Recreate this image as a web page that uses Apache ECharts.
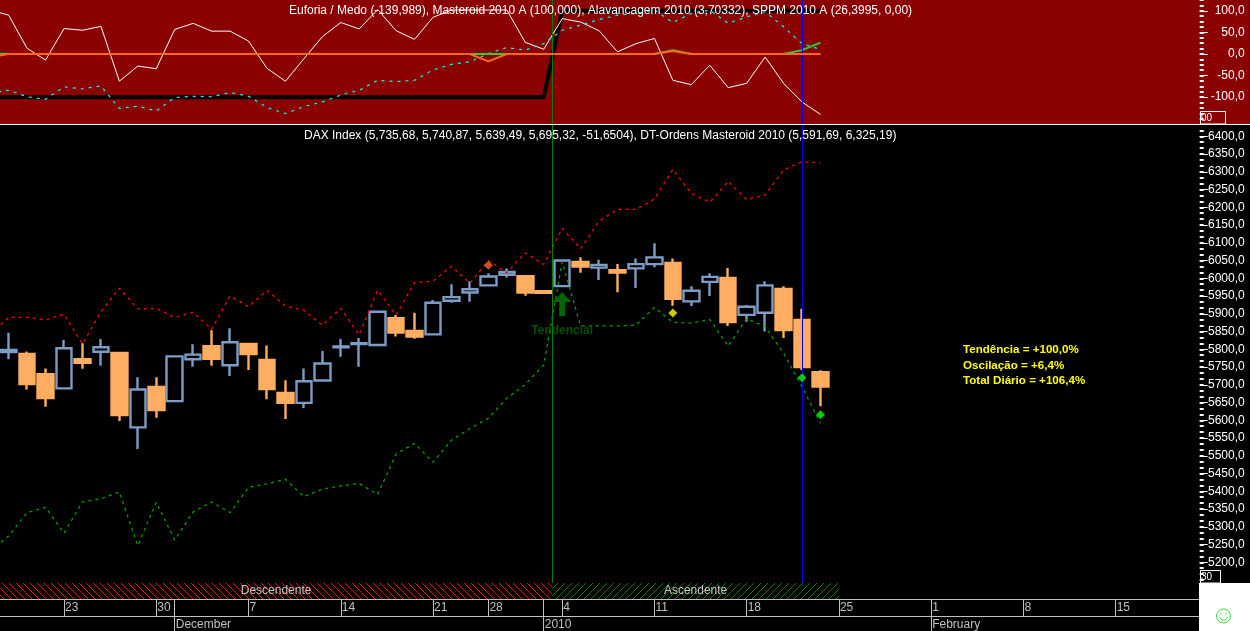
<!DOCTYPE html>
<html>
<head>
<meta charset="utf-8">
<style>html,body{margin:0;padding:0;background:#000}#c{width:1250px;height:631px}</style>
<script src="https://cdn.jsdelivr.net/npm/echarts@6/dist/echarts.min.js"></script>
</head>
<body>
<div id="c"></div>
<script>
// ---- data ----
const dates = ['2009-11-17','2009-11-18','2009-11-19','2009-11-20','2009-11-23','2009-11-24','2009-11-25','2009-11-26','2009-11-27','2009-11-30','2009-12-01','2009-12-02','2009-12-03','2009-12-04','2009-12-07','2009-12-08','2009-12-09','2009-12-10','2009-12-11','2009-12-14','2009-12-15','2009-12-16','2009-12-17','2009-12-18','2009-12-21','2009-12-22','2009-12-23','2009-12-28','2009-12-29','2009-12-30','2010-01-01','2010-01-04','2010-01-05','2010-01-06','2010-01-07','2010-01-08','2010-01-11','2010-01-12','2010-01-13','2010-01-14','2010-01-15','2010-01-18','2010-01-19','2010-01-20','2010-01-21','2010-01-22','2010-01-25','2010-01-26','2010-01-27','2010-01-28','2010-01-29','2010-02-01','2010-02-02','2010-02-03','2010-02-04','2010-02-05','2010-02-08','2010-02-09','2010-02-10','2010-02-11','2010-02-12','2010-02-15','2010-02-16','2010-02-17','2010-02-18','2010-02-19'];
const dayTicks = ['2009-11-23','2009-11-30','2009-12-07','2009-12-14','2009-12-21','2009-12-28','2010-01-04','2010-01-11','2010-01-18','2010-01-25','2010-02-01','2010-02-08','2010-02-15'];
const monthTicks = {'2009-12-01':'December','2010-01-01':'2010','2010-02-01':'February'};

// first entry of each series belongs to the bar just off the left edge
const opens  = ['-',5792,5787,5730,5690,5772,5793,5790,5580,5694,5654,5772,5809,5755,5815,5770,5677,5649,5712,5806,5815,5812,5888,5852,5842,5937,5960,5980,6010,6006,5964,5978,6046,6030,6023,6028,6040,6043,5935,5990,6001,5897,5903,5970,5883,5735.68];
const closes = ['-',5798,5702,5663,5803,5762,5806,5615,5687,5629,5780,5785,5773,5820,5787,5688,5649,5710,5760,5808,5817,5906,5847,5836,5931,5947,5969,6005,6018,5960,5959,6050,6033,6038,6016,6040,6059,5942,5965,6004,5877,5920,5980,5854,5750,5695.32];
const lows   = ['-',5772,5687,5638,5689,5745,5754,5598,5519,5607,5654,5751,5754,5725,5742,5659,5604,5635,5711,5779,5751,5812,5836,5830,5842,5931,5934,5980,6002,5951,5957,5975,6016,5995,5961,5973,6031,5923,5922,5950,5866,5878,5850,5832,5742,5639.49];
const highs  = ['-',5847,5794,5746,5826,5817,5829,5790,5721,5721,5782,5814,5854,5859,5815,5811,5713,5746,5795,5829,5832,5906,5897,5903,5939,5983,5992,6014,6028,6009,5964,6050,6059,6052,6040,6056,6099,6056,5978,6014,6029,5925,5992,5978,5914,5740.87];
const upperBand = [5843,5890,5890,5883,5899,5815,5906,5972,5914,5915,5890,5904,5856,5950,5920,5966,5922,5910,5868,5915,5841,5966,5897,5988,5992,6034,5986,6050,6016,6072,6039,6141,6083,6161,6194,6194,6223,6307,6239,6214,6273,6221,6235,6305,6328,6325.19];
const lowerBand = [5232,5274,5340,5355,5282,5370,5379,5398,5247,5369,5263,5342,5370,5340,5411,5421,5434,5385,5406,5415,5422,5391,5505,5535,5482,5544,5577,5606,5662,5701,5756,6046,5866,5866,5866,5868,5918,5876,5874,5884,5809,5886,5864,5789,5695,5591.69];
const euforia = [102,90,13,-14,59,55,64,-63,-28,-34,57,71,53,53,30,-33,-63,-11,40,73,58,103,54,34,85,102,102,102,102,27,11,82,74,54,5,24,36,-61,-71,-26,-78,-68,-7,-68,-111,-139.989];
const alavancagem = [-91,-84,-99,-105,-76,-81,-74,-126,-121,-132,-101,-98,-99,-89,-98,-124,-138,-122,-111,-95,-84,-61,-64,-61,-37,-24,-18,1,15,9,24,55,67,80,90,94,102,73,94,102,71,86,98,63,24,10.5];
const masteroid = [-100,-100,-100,-100,-100,-100,-100,-100,-100,-100,-100,-100,-100,-100,-100,-100,-100,-100,-100,-100,-100,-100,-100,-100,-100,-100,-100,-100,-100,-100,-100,100,100,100,100,100,100,100,100,100,100,100,100,100,100,100];
const sppmFast = [0,0,0,0,0,0,0,0,0,0,0,0,0,0,0,0,0,0,0,0,0,0,0,0,0,0,0,0,0,0,0,0,0,0,0,0,0,9,0,0,0,0,0,0,9,26.4];
const sppmSlow = [-7,0,0,0,0,0,0,0,0,0,0,0,0,0,0,0,0,0,0,0,0,0,0,0,0,0,0,-17,0,0,0,0,0,0,0,0,0,7,0,0,0,0,0,0,0,0];
const markerDates = ['2009-12-28','2010-01-12','2010-01-21','2010-01-22'];
const markerValues = [6037,5902,5720,5616];
const markerColors = ['#FF6622','#FFFF00','#00FF00','#00FF00'];
const arrowDate = '2010-01-04';
const arrowValue = 5928;
const arrowLabelValue = 5852;
const arrowLabel = 'Tendencial';
const regimeNames = ['Descendente','Ascendente'];
const regimeStart = [-0.47,29.46];
const regimeEnd = [29.46,45];
const regimeColors = ['#FF0000','#008000'];
const regimeDirs = [1,-1];
const verticalMarks = [29.46,43];
const verticalColors = ['#008000','#0000FF'];
const upperMajor = [-100,-50,0,50,100];
const priceMajor = [5200,5250,5300,5350,5400,5450,5500,5550,5600,5650,5700,5750,5800,5850,5900,5950,6000,6050,6100,6150,6200,6250,6300,6350,6400];
const titleUpper = 'Euforia / Medo (-139,989), Masteroid 2010 A (100,000), Alavancagem 2010 (3,70332), SPPM 2010 A (26,3995, 0,00)';
const titleLower = 'DAX Index (5,735,68, 5,740,87, 5,639,49, 5,695,32, -51,6504), DT-Ordens Masteroid 2010 (5,591,69, 6,325,19)';
const summaryLines = ['Tendência = +100,0%','Oscilação = +6,4%','Total Diário = +106,4%'];

// ---- layout ----
const FONT = 'Liberation Sans';
const GRID = {left:-19, width:1217.7, outerBoundsMode:'none'};
const upperMinor = []; for (let v=-162.5; v<=125; v+=12.5) upperMinor.push(v);
const priceMinor = []; for (let v=5150; v<=6430; v+=50/3) priceMinor.push(v);
const fmt = v => v.toFixed(1).replace('.',',');
const tile = (color,dir) => {
  const c = document.createElement('canvas'); c.width = c.height = 7;
  const g = c.getContext('2d'); g.fillStyle='#000'; g.fillRect(0,0,7,7); g.fillStyle=color;
  for (let i=0;i<7;i++) g.fillRect(dir>0?i:6-i,i,1,1);
  return c;
};
const candleData = opens.map((o,i)=> o==='-' ? ['-','-','-','-'] : [o,closes[i],lows[i],highs[i]]);
const dayAxis = ()=>({type:'category',data:dates,boundaryGap:true,position:'top',
  axisLine:{show:true,onZero:false,lineStyle:{color:'#C0C0C0',width:1}},
  splitLine:{show:false}});
const isDayTick = (i,v)=> dayTicks.includes(v) || (v in monthTicks);
const valAxis = (i)=>({type:'value',gridIndex:i,min:-1.5,max:64.5,show:false});
const UMIN=-162.2, UMAX=125.14;

const option = {
  backgroundColor:'#000',
  animation:false,
  grid:[
    {...GRID,top:0,height:124},
    {...GRID,top:125,height:458},
    {...GRID,top:0,height:583},
    {...GRID,top:583,height:16},
    {...GRID,top:599,height:17},
    {...GRID,top:616,height:15}
  ],
  xAxis:[
    {type:'category',gridIndex:0,data:dates,show:false},
    {type:'category',gridIndex:1,data:dates,show:false},
    valAxis(2),
    valAxis(3),
    Object.assign(dayAxis(),{gridIndex:4,
      axisTick:{show:true,inside:true,length:17,alignWithLabel:true,interval:isDayTick,lineStyle:{color:'#C0C0C0',width:1}},
      axisLabel:{show:true,inside:true,interval:(i,v)=>dayTicks.includes(v),formatter:v=>String(+v.slice(8)),align:'left',margin:3,padding:[0,0,0,1],color:'#C0C0C0',fontFamily:FONT,fontSize:12}}),
    Object.assign(dayAxis(),{gridIndex:5,
      axisTick:{show:true,inside:true,length:15,alignWithLabel:true,interval:(i,v)=>v in monthTicks,lineStyle:{color:'#C0C0C0',width:1}},
      axisLabel:{show:true,inside:true,interval:(i,v)=>v in monthTicks,formatter:v=>monthTicks[v]||'',align:'left',margin:3,padding:[0,0,0,1],color:'#C0C0C0',fontFamily:FONT,fontSize:12}})
  ],
  yAxis:[
    {type:'value',gridIndex:0,position:'right',offset:1,min:UMIN,max:UMAX,splitLine:{show:false},axisLine:{show:false},
     axisTick:{show:true,length:8,customValues:upperMajor,lineStyle:{color:'#fff',width:1}},
     axisLabel:{show:true,customValues:upperMajor,formatter:fmt,align:'right',margin:45,padding:[2,0,0,0],color:'#fff',fontFamily:FONT,fontSize:12}},
    {type:'value',gridIndex:0,position:'right',offset:1,min:UMIN,max:UMAX,splitLine:{show:false},axisLine:{show:false},
     axisTick:{show:true,length:4,customValues:upperMinor,lineStyle:{color:'#fff',width:2}},axisLabel:{show:false}},
    {type:'value',gridIndex:1,position:'right',offset:1,min:5141.7,max:6431.9,splitLine:{show:false},axisLine:{show:false},
     axisTick:{show:true,length:8,customValues:priceMajor,lineStyle:{color:'#fff',width:1}},
     axisLabel:{show:true,customValues:priceMajor,formatter:fmt,align:'right',margin:45,color:'#fff',fontFamily:FONT,fontSize:12}},
    {type:'value',gridIndex:1,position:'right',offset:1,min:5141.7,max:6431.9,splitLine:{show:false},axisLine:{show:false},
     axisTick:{show:true,length:4,customValues:priceMinor,lineStyle:{color:'#fff',width:2}},axisLabel:{show:false}},
    {type:'value',gridIndex:2,min:0,max:1,show:false},
    {type:'value',gridIndex:3,min:0,max:1,show:false},
    {type:'value',gridIndex:4,min:0,max:1,show:false},
    {type:'value',gridIndex:5,min:0,max:1,show:false}
  ],
  series:[
    {type:'line',name:'Masteroid',xAxisIndex:0,yAxisIndex:0,data:masteroid,symbol:'none',lineStyle:{color:'#000',width:4},z:3},
    {type:'line',name:'Euforia',xAxisIndex:0,yAxisIndex:0,data:euforia,symbol:'none',lineStyle:{color:'#fff',width:1},z:3},
    {type:'line',name:'Alavancagem',xAxisIndex:0,yAxisIndex:0,data:alavancagem,symbol:'none',lineStyle:{color:'#00FFFF',width:1.2,type:[3,5]},z:3},
    {type:'line',name:'SPPM fast',xAxisIndex:0,yAxisIndex:0,data:sppmFast,symbol:'none',lineStyle:{color:'#33CC33',width:2},z:4},
    {type:'line',name:'SPPM slow',xAxisIndex:0,yAxisIndex:0,data:sppmSlow,symbol:'none',lineStyle:{color:'#FF6622',width:2},z:5},
    {type:'candlestick',name:'DAX Index',xAxisIndex:1,yAxisIndex:2,data:candleData,barWidth:16,
     itemStyle:{color:'#000',color0:'#FFAD60',borderColor:'#7C9DC6',borderColor0:'#FFAD60',borderWidth:2.4},z:2},
    {type:'line',name:'Upper band',xAxisIndex:1,yAxisIndex:2,data:upperBand,symbol:'none',lineStyle:{color:'#FF0000',width:1.3,type:[3,4]},z:3},
    {type:'line',name:'Lower band',xAxisIndex:1,yAxisIndex:2,data:lowerBand,symbol:'none',lineStyle:{color:'#00A000',width:1.3,type:[3,4]},z:3},
    {type:'scatter',name:'Signals',xAxisIndex:1,yAxisIndex:2,symbol:'diamond',symbolSize:9,z:6,
     data:markerDates.map((d,i)=>({value:[d,markerValues[i]],itemStyle:{color:markerColors[i]}}))},
    {type:'scatter',name:'Arrow',xAxisIndex:1,yAxisIndex:2,z:6,symbol:'path://M9 0 L18 10 L12 10 L12 24 L6 24 L6 10 L0 10 Z',symbolSize:[18,24],
     itemStyle:{color:'#008000'},data:[[arrowDate,arrowValue]]},
    {type:'scatter',name:'ArrowLabel',xAxisIndex:1,yAxisIndex:2,z:6,symbolSize:0,data:[[arrowDate,arrowLabelValue]],
     label:{show:true,position:'inside',formatter:arrowLabel,color:'#006400',fontFamily:FONT,fontWeight:'bold',fontSize:12}},
    ...verticalMarks.map((v,i)=>({type:'line',xAxisIndex:2,yAxisIndex:4,data:[[v,0]],symbol:'none',z:5,
      markLine:{silent:true,symbol:'none',animation:false,label:{show:false},lineStyle:{color:verticalColors[i],type:'solid',width:1},data:[{xAxis:v}]}})),
    {type:'line',xAxisIndex:3,yAxisIndex:5,data:[[0,0]],symbol:'none',
     markArea:{silent:true,data:regimeNames.map((n,i)=>[
       {name:n,xAxis:regimeStart[i],yAxis:0,itemStyle:{color:{image:tile(regimeColors[i],regimeDirs[i]),repeat:'repeat'}},
        label:{show:true,position:'inside',color:'#C8C8C8',fontFamily:FONT,fontSize:12}},
       {xAxis:regimeEnd[i],yAxis:1}])}}
  ],
  graphic:[
    {type:'rect',z:-10,shape:{x:0,y:0,width:1250,height:124},style:{fill:'#8B0000'}},
    {type:'text',z:20,x:289,y:5,style:{text:titleUpper,fill:'#fff',font:'12px '+FONT}},
    {type:'text',z:20,x:304,y:130,style:{text:titleLower,fill:'#fff',font:'12px '+FONT}},
    {type:'rect',z:10,shape:{x:0,y:124,width:1250,height:1},style:{fill:'#fff'}},
    {type:'rect',z:10,shape:{x:1200.5,y:111.5,width:25,height:12.5},style:{fill:'none',stroke:'#fff',lineWidth:1}},
    {type:'text',z:11,x:1201,y:113,style:{text:'00',fill:'#fff',font:'10px '+FONT}},
    {type:'rect',z:10,shape:{x:1200.5,y:570.5,width:20,height:12.5},style:{fill:'none',stroke:'#fff',lineWidth:1}},
    {type:'text',z:11,x:1201,y:572,style:{text:'30',fill:'#fff',font:'10px '+FONT}},
    {type:'rect',z:12,shape:{x:1199,y:583,width:51,height:48},style:{fill:'#fff'}},
    {type:'circle',z:13,shape:{cx:1223.5,cy:616,r:7},style:{fill:'#fff',stroke:'#33DD33',lineWidth:1}},
    {type:'circle',z:13,shape:{cx:1221,cy:614,r:0.8},style:{fill:'#33DD33'}},
    {type:'circle',z:13,shape:{cx:1226,cy:614,r:0.8},style:{fill:'#33DD33'}},
    {type:'arc',z:13,shape:{cx:1223.5,cy:616,r:4,startAngle:0.35,endAngle:Math.PI-0.35},style:{fill:'none',stroke:'#33DD33',lineWidth:1}},
    ...summaryLines.map((t,i)=>({type:'text',z:11,x:963,y:[344,360,375][i],style:{text:t,fill:'#FFFF00',font:'bold 11.6px '+FONT}}))
  ]
};
const chart = echarts.init(document.getElementById('c'),null,{renderer:'canvas',width:1250,height:631});
chart.setOption(option);
</script>
</body>
</html>
